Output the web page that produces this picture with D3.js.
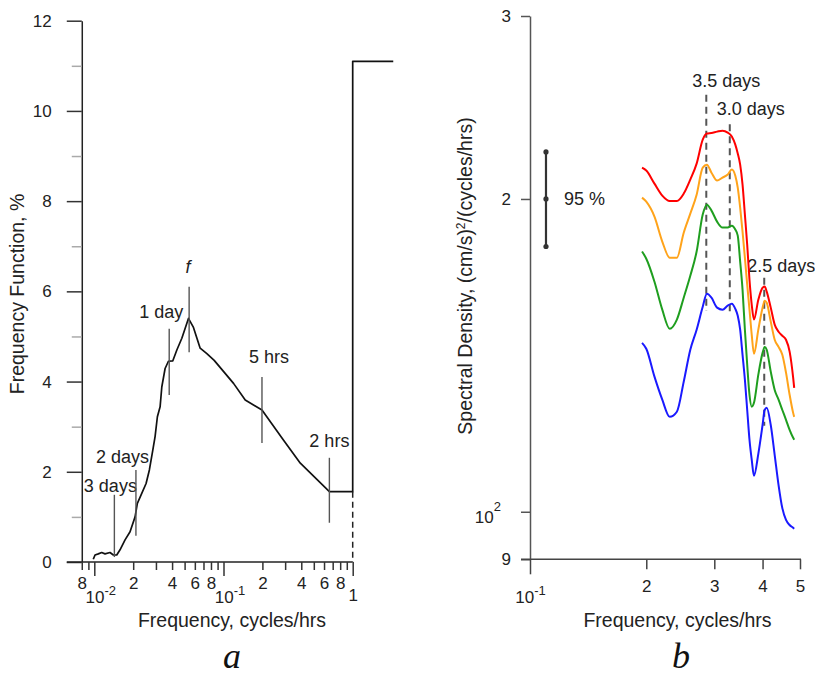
<!DOCTYPE html>
<html>
<head>
<meta charset="utf-8">
<script src="https://cdn.jsdelivr.net/npm/d3@7"></script>
<style>
  body { margin: 0; background: #fff; }
  svg { display: block; font-family: "Liberation Sans", Arial, sans-serif; }
</style>
</head>
<body>
<div id="chart"></div>
<script>
// ---- panel a: frequency function ----
const freqA = [0.00982, 0.01013, 0.01074, 0.01141, 0.0121, 0.01323, 0.01404, 0.01492, 0.01582, 0.0173,
  0.01891, 0.02068, 0.02154, 0.0233, 0.02516, 0.02669, 0.02837, 0.02954, 0.03078, 0.03231,
  0.0333, 0.03532, 0.03747, 0.04053, 0.04354, 0.04759, 0.05354, 0.05854, 0.06597, 0.07433,
  0.0847, 0.1196, 0.1473, 0.1985, 0.2918, 0.3932, 0.66, 1.0, 1.0, 2.06];
const valueA = [0.06, 0.155, 0.18, 0.21, 0.18, 0.21, 0.155, 0.155, 0.27, 0.49,
  0.67, 1.0, 1.3, 1.52, 1.74, 2.04, 2.48, 2.78, 3.22, 3.44,
  3.88, 4.29, 4.45, 4.46, 4.7, 4.96, 5.4, 5.2, 4.74, 4.62,
  4.47, 3.96, 3.59, 3.37, 2.7, 2.19, 1.56, 1.56, 11.1, 11.1];

const markerNamesA = ["3 days", "2 days", "1 day", "f", "5 hrs", "2 hrs"];
const markerFreqA = [0.0143, 0.021, 0.038, 0.0542, 0.1985, 0.66];
const markerLowA = [0.11, 0.58, 3.70, 4.65, 2.64, 0.87];
const markerHighA = [1.49, 2.04, 5.17, 6.10, 4.10, 2.31];

const xTicksA = [0.008, 0.009, 0.01, 0.02, 0.03, 0.04, 0.05, 0.06, 0.07, 0.08, 0.09,
  0.1, 0.2, 0.3, 0.4, 0.5, 0.6, 0.7, 0.8, 0.9, 1];
const xTickLabelsA = ["8", "", "10^-2", "2", "", "4", "", "6", "", "8", "",
  "10^-1", "2", "", "4", "", "6", "", "8", "", "1"];
const yTicksA = d3.range(0, 13);

// ---- panel b: spectral density ----
const freqB = [0.195, 0.2, 0.21, 0.22, 0.23, 0.24, 0.25, 0.26, 0.27, 0.28,
  0.287, 0.295, 0.305, 0.315, 0.325, 0.333, 0.34, 0.345, 0.35, 0.355,
  0.36, 0.365, 0.37, 0.375, 0.38, 0.39, 0.4, 0.405, 0.41, 0.42,
  0.43, 0.44, 0.45, 0.46, 0.47, 0.48, 0.483];
const redB = [214.4, 213.0, 206.9, 201.5, 199.1, 199.1, 202.4, 208.8, 216.3, 228.1,
  231.2, 231.5, 232.2, 232.7, 231.7, 229.7, 225.6, 221.2, 215.8, 206.5,
  193.2, 180.7, 167.2, 158.2, 153.1, 160.0, 164.3, 164.7, 162.9, 157.2,
  151.4, 149.0, 147.7, 146.4, 142.6, 134.6, 131.6];
const orangeB = [200.6, 198.8, 192.3, 182.0, 175.6, 175.6, 185.6, 193.6, 201.9, 214.4,
  215.8, 212.0, 208.3, 209.7, 211.1, 213.5, 210.6, 205.1, 196.2, 186.0,
  175.6, 165.4, 156.5, 148.0, 141.9, 149.7, 157.2, 159.6, 158.9, 152.4,
  146.4, 144.1, 141.6, 136.1, 129.6, 124.5, 123.4];
const greenB = [178.0, 175.2, 166.5, 156.5, 150.0, 153.1, 160.7, 168.7, 178.0, 193.2,
  197.5, 194.9, 190.2, 187.7, 187.7, 188.5, 186.9, 184.4, 174.1, 163.6,
  149.7, 138.5, 129.6, 126.2, 127.3, 135.5, 142.2, 144.1, 143.2, 136.4,
  131.0, 128.2, 125.3, 122.6, 119.9, 117.8, 117.3];
const blueB = [145.4, 143.5, 134.9, 128.2, 123.4, 124.8, 133.4, 143.2, 149.7, 157.5,
  162.1, 160.7, 157.2, 156.5, 157.9, 158.6, 156.8, 154.4, 149.7, 141.6,
  134.0, 125.3, 117.3, 112.2, 108.3, 113.7, 121.2, 125.3, 125.9, 121.2,
  113.4, 106.1, 100.8, 98.2, 97.1, 96.5, 96.3];

const peakNamesB = ["3.5 days", "3.0 days", "2.5 days"];
const peakFreqB = [0.286, 0.329, 0.404];
const peakLowB = [156, 155, 121];
const peakHighB = [252, 236, 168];

const ciFreqB = 0.11;
const ciValuesB = [180, 200, 222];   // lower, centre, upper
const ciLabelB = "95 %";

const xTicksB = [0.1, 0.2, 0.3, 0.4, 0.5];
const xTickLabelsB = ["10^-1", "2", "3", "4", "5"];
const yTicksB = [300, 200, 100, 90];
const yTickLabelsB = ["3", "2", "10^2", "9"];

// label placement relative to marker tops (px)
const markerLabelDxA = [-4, -13.5, -8, -1, 7, 0];
const markerLabelDyA = [-3, -7, -11, -14, -14, -11];
const peakLabelDxB = [20, 21, 17];
const peakLabelDyB = [-8, -9, -6];

const width = 815, height = 685;
const svg = d3.select("#chart").append("svg")
  .attr("width", width)
  .attr("height", height);

const xA = d3.scaleLog().domain([0.01, 1]).range([94.3, 352.7]);
const yA = d3.scaleLinear().domain([0, 12]).range([562, 20.7]);
const xB = d3.scaleLog().domain([0.1, 0.5]).range([530, 800]);
const yB = d3.scaleLog().domain([90, 300]).range([559.3, 16]);

// writes "10^-2" style labels as base + superscript
function supLabel(text, label, supSize, supDy) {
  const [base, exp] = label.split("^");
  text.text(null);
  text.append("tspan").text(base);
  text.append("tspan").attr("font-size", supSize).attr("dy", supDy).text(exp);
}

// ===== panel a =====
const gA = svg.append("g");
const axisXA = xA(0.008);

gA.append("g")
  .attr("transform", `translate(${axisXA},0)`)
  .call(d3.axisLeft(yA).tickValues(yTicksA).tickFormat(d => d % 2 ? "" : d)
    .tickSize(15).tickPadding(15).tickSizeOuter(0))
  .call(g => g.select(".domain").attr("stroke", "#222").attr("stroke-width", 1.5))
  .call(g => g.selectAll(".tick line")
    .attr("x2", d => d % 2 ? -10 : -15)
    .attr("stroke", d => d % 2 ? "#aaa" : "#333")
    .attr("stroke-width", 1.5))
  .call(g => g.selectAll(".tick text").attr("font-size", 17).attr("fill", "#222")
    .attr("font-family", "Liberation Sans, Arial, sans-serif"));

gA.append("line")
  .attr("x1", axisXA - 15).attr("x2", xA(1))
  .attr("y1", yA(0)).attr("y2", yA(0))
  .attr("stroke", "#222").attr("stroke-width", 1.5);

gA.append("g")
  .attr("transform", `translate(0,${yA(0)})`)
  .call(d3.axisBottom(xA).tickValues(xTicksA).tickFormat((d, i) => xTickLabelsA[i])
    .tickSize(8).tickPadding(7.4).tickSizeOuter(0))
  .call(g => g.select(".domain").remove())
  .call(g => g.selectAll(".tick line")
    .attr("y2", d => [0.01, 0.1, 1].includes(d) ? 14 : 8)
    .attr("stroke", "#333").attr("stroke-width", 1.5))
  .call(g => g.selectAll(".tick text")
    .attr("font-size", 17).attr("fill", "#222")
    .attr("font-family", "Liberation Sans, Arial, sans-serif")
    .each(function (d, i) {
      const lab = xTickLabelsA[i];
      const t = d3.select(this);
      if (lab.includes("^")) {
        t.attr("y", 41).attr("dy", 0).attr("dx", 6);
        supLabel(t, lab, 13, -8);
      } else if (d === 1) {
        t.attr("y", 39).attr("dy", 0);
      }
    }));

// curve + step
gA.append("path")
  .datum(freqA.map((f, i) => [f, valueA[i]]))
  .attr("fill", "none")
  .attr("stroke", "#111")
  .attr("stroke-width", 1.7)
  .attr("stroke-linejoin", "round")
  .attr("d", d3.line().x(d => xA(d[0])).y(d => yA(d[1])));

// dashed drop at 1 cycle/hr
gA.append("line")
  .attr("x1", xA(1)).attr("x2", xA(1))
  .attr("y1", yA(valueA[freqA.indexOf(1.0)])).attr("y2", yA(0))
  .attr("stroke", "#222").attr("stroke-width", 1.5)
  .attr("stroke-dasharray", "6,4");

// period markers
const mA = gA.selectAll(".markerA")
  .data(markerNamesA.map((n, i) => ({ name: n, f: markerFreqA[i], lo: markerLowA[i], hi: markerHighA[i], i })))
  .join("g").attr("class", "markerA");

mA.append("line")
  .attr("x1", d => xA(d.f)).attr("x2", d => xA(d.f))
  .attr("y1", d => yA(d.hi)).attr("y2", d => yA(d.lo))
  .attr("stroke", "#555").attr("stroke-width", 1.4);

mA.append("text")
  .attr("x", d => xA(d.f) + markerLabelDxA[d.i])
  .attr("y", d => yA(d.hi) + markerLabelDyA[d.i])
  .attr("text-anchor", "middle")
  .attr("font-size", 18)
  .attr("fill", "#222")
  .attr("font-style", d => d.name === "f" ? "italic" : "normal")
  .text(d => d.name);

gA.append("text")
  .attr("x", 232).attr("y", 627)
  .attr("text-anchor", "middle")
  .attr("font-size", 19.5).attr("fill", "#222")
  .text("Frequency, cycles/hrs");

gA.append("text")
  .attr("transform", "translate(24,294) rotate(-90)")
  .attr("text-anchor", "middle")
  .attr("font-size", 19.5).attr("fill", "#222")
  .text("Frequency Function, %");

gA.append("text")
  .attr("x", 232).attr("y", 668)
  .attr("text-anchor", "middle")
  .attr("font-family", "Liberation Serif, Times New Roman, serif")
  .attr("font-style", "italic")
  .attr("font-size", 36).attr("fill", "#111")
  .text("a");

// ===== panel b =====
const gB = svg.append("g");
const axisXB = xB(0.1);

gB.append("g")
  .attr("transform", `translate(${axisXB},0)`)
  .call(d3.axisLeft(yB).tickValues(yTicksB).tickFormat((d, i) => yTickLabelsB[i])
    .tickSize(9).tickPadding(10).tickSizeOuter(0))
  .call(g => g.select(".domain").attr("stroke", "#555").attr("stroke-width", 1.5))
  .call(g => g.selectAll(".tick line").attr("stroke", "#555").attr("stroke-width", 1.5))
  .call(g => g.selectAll(".tick text")
    .attr("font-size", 17).attr("fill", "#222")
    .attr("font-family", "Liberation Sans, Arial, sans-serif")
    .each(function (d, i) {
      const lab = yTickLabelsB[i];
      if (lab.includes("^")) {
        const t = d3.select(this);
        t.attr("x", -29).attr("y", 10.7).attr("dy", 0);
        supLabel(t, lab, 13, -11.7);
      }
    }));

gB.append("line")
  .attr("x1", axisXB - 9).attr("x2", xB(0.5) + 1)
  .attr("y1", yB(90)).attr("y2", yB(90))
  .attr("stroke", "#444").attr("stroke-width", 1.5);

gB.append("g")
  .attr("transform", `translate(0,${yB(90)})`)
  .call(d3.axisBottom(xB).tickValues(xTicksB).tickFormat((d, i) => xTickLabelsB[i])
    .tickSize(10).tickPadding(10.6).tickSizeOuter(0))
  .call(g => g.select(".domain").remove())
  .call(g => g.selectAll(".tick line")
    .attr("y2", d => d === 0.1 ? 15 : 10)
    .attr("stroke", "#444").attr("stroke-width", 1.5))
  .call(g => g.selectAll(".tick text")
    .attr("font-size", 17).attr("fill", "#222")
    .attr("font-family", "Liberation Sans, Arial, sans-serif")
    .each(function (d, i) {
      const lab = xTickLabelsB[i];
      if (lab.includes("^")) {
        const t = d3.select(this);
        t.attr("y", 43.7).attr("dy", 0);
        supLabel(t, lab, 13, -8);
      }
    }));

// 95% confidence bar
const ciX = xB(ciFreqB);
gB.append("line")
  .attr("x1", ciX).attr("x2", ciX)
  .attr("y1", yB(ciValuesB[2])).attr("y2", yB(ciValuesB[0]))
  .attr("stroke", "#333").attr("stroke-width", 2.2);
gB.selectAll(".ciDot")
  .data(ciValuesB)
  .join("circle").attr("class", "ciDot")
  .attr("cx", ciX).attr("cy", d => yB(d)).attr("r", 2.6)
  .attr("fill", "#333");
gB.append("text")
  .attr("x", ciX + 18).attr("y", yB(ciValuesB[1]) + 6)
  .attr("font-size", 18).attr("fill", "#222")
  .text(ciLabelB);

// dashed peak markers
const pB = gB.selectAll(".peakB")
  .data(peakNamesB.map((n, i) => ({ name: n, f: peakFreqB[i], lo: peakLowB[i], hi: peakHighB[i], i })))
  .join("g").attr("class", "peakB");

pB.append("line")
  .attr("x1", d => xB(d.f)).attr("x2", d => xB(d.f))
  .attr("y1", d => yB(d.hi)).attr("y2", d => yB(d.lo))
  .attr("stroke", "#555").attr("stroke-width", 2)
  .attr("stroke-dasharray", "7,5");

// spectra
const series = [
  { values: redB, color: "#ff0000" },
  { values: orangeB, color: "#ffa31a" },
  { values: greenB, color: "#1f9e1f" },
  { values: blueB, color: "#1a1aff" }
];
const lineB = d3.line().x(d => xB(d[0])).y(d => yB(d[1])).curve(d3.curveMonotoneX);
gB.selectAll(".spec")
  .data(series)
  .join("path").attr("class", "spec")
  .attr("fill", "none")
  .attr("stroke", d => d.color)
  .attr("stroke-width", 2)
  .attr("d", d => lineB(freqB.map((f, i) => [f, d.values[i]])));

pB.append("text")
  .attr("x", d => xB(d.f) + peakLabelDxB[d.i])
  .attr("y", d => yB(d.hi) + peakLabelDyB[d.i])
  .attr("text-anchor", "middle")
  .attr("font-size", 18)
  .attr("fill", "#222")
  .text(d => d.name);

gB.append("text")
  .attr("x", 677.5).attr("y", 627)
  .attr("text-anchor", "middle")
  .attr("font-size", 19.5).attr("fill", "#222")
  .text("Frequency, cycles/hrs");

const yTitleB = gB.append("text")
  .attr("transform", "translate(472,276) rotate(-90)")
  .attr("text-anchor", "middle")
  .attr("font-size", 19.5).attr("fill", "#222");
yTitleB.append("tspan").text("Spectral Density, (cm/s)");
yTitleB.append("tspan").attr("font-size", 12).attr("dy", -7).text("2");
yTitleB.append("tspan").attr("dy", 7).text("/(cycles/hrs)");

gB.append("text")
  .attr("x", 681).attr("y", 668)
  .attr("text-anchor", "middle")
  .attr("font-family", "Liberation Serif, Times New Roman, serif")
  .attr("font-style", "italic")
  .attr("font-size", 36).attr("fill", "#111")
  .text("b");
</script>
</body>
</html>
